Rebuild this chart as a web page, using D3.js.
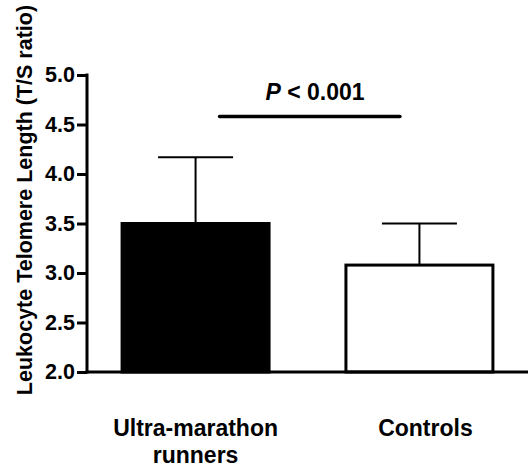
<!DOCTYPE html>
<html>
<head>
<meta charset="utf-8">
<script src="https://cdn.jsdelivr.net/npm/d3@7"></script>
<style>
  body { margin: 0; background: #fff; }
  svg { font-family: "Liberation Sans", Arial, sans-serif; font-weight: bold; }
</style>
</head>
<body>
<svg width="528" height="467"></svg>
<script>
  // telomere length by group (mean and upper error)
  const groups = ['Ultra-marathon runners', 'Controls'];
  const groupLines = [['Ultra-marathon', 'runners'], ['Controls']];
  const means = [3.5, 3.08];
  const errTop = [4.17, 3.5];
  const fills = ['#000000', '#ffffff'];
  const yTicks = [2.0, 2.5, 3.0, 3.5, 4.0, 4.5, 5.0];
  const sigValue = 4.58;
  const sigLabel = '< 0.001';

  const svg = d3.select('svg');

  const xScale = d3.scaleBand()
    .range([87, 528])
    .domain(groups)
    .paddingInner(0.33)
    .paddingOuter(0.15);

  const yScale = d3.scaleLinear()
    .range([372, 75])
    .domain([2, 5]);

  const bw = xScale.bandwidth();

  // bars
  svg.selectAll('.bar')
    .data(groups)
    .enter()
    .append('rect')
    .attr('class', 'bar')
    .attr('x', (g) => xScale(g) + 1.5)
    .attr('y', (g, i) => yScale(means[i]))
    .attr('width', bw - 3)
    .attr('height', (g, i) => yScale(2) - yScale(means[i]))
    .attr('fill', (g, i) => fills[i])
    .attr('stroke', '#000')
    .attr('stroke-width', 3);

  // error bars (upper only)
  const err = svg.selectAll('.err')
    .data(groups)
    .enter()
    .append('g')
    .attr('class', 'err')
    .attr('stroke', '#000')
    .attr('stroke-width', 2);

  err.append('line')
    .attr('x1', (g) => xScale(g) + bw / 2)
    .attr('x2', (g) => xScale(g) + bw / 2)
    .attr('y1', (g, i) => yScale(means[i]))
    .attr('y2', (g, i) => yScale(errTop[i]));

  err.append('line')
    .attr('x1', (g) => xScale(g) + bw / 4)
    .attr('x2', (g) => xScale(g) + bw * 3 / 4)
    .attr('y1', (g, i) => yScale(errTop[i]))
    .attr('y2', (g, i) => yScale(errTop[i]));

  // y axis
  const yAxis = svg.append('g')
    .attr('transform', 'translate(87,0)')
    .call(d3.axisLeft(yScale)
      .tickValues(yTicks)
      .tickFormat(d3.format('.1f'))
      .tickSize(10)
      .tickSizeOuter(0)
      .tickPadding(2));

  yAxis.select('.domain').attr('stroke-width', 3).attr('d', 'M0,373.5V73.5');
  yAxis.selectAll('.tick line').attr('stroke-width', 3);
  yAxis.selectAll('.tick text')
    .attr('font-size', 21.5)
    .attr('font-family', '"Liberation Sans", Arial, sans-serif')
    .attr('font-weight', 'bold')
    .attr('fill', '#000');

  // x axis line
  svg.append('line')
    .attr('x1', 85.5)
    .attr('x2', 528)
    .attr('y1', yScale(2))
    .attr('y2', yScale(2))
    .attr('stroke', '#000')
    .attr('stroke-width', 3);

  // category labels
  svg.selectAll('.cat')
    .data(groups)
    .enter()
    .append('text')
    .attr('class', 'cat')
    .attr('text-anchor', 'middle')
    .attr('font-size', 23)
    .each(function (g, i) {
      d3.select(this).selectAll('tspan')
        .data(groupLines[i])
        .enter()
        .append('tspan')
        .attr('x', xScale(g) + bw / 2 + (i === 1 ? 6 : 0))
        .attr('y', (s, j) => 436 + j * 27)
        .text((s) => s);
    });

  // significance bar
  svg.append('line')
    .attr('x1', xScale(groups[0]) + bw * 0.66)
    .attr('x2', xScale(groups[1]) + bw * 0.37)
    .attr('y1', yScale(sigValue))
    .attr('y2', yScale(sigValue))
    .attr('stroke', '#000')
    .attr('stroke-width', 3.5)
    .attr('stroke-linecap', 'round');

  const pText = svg.append('text')
    .attr('x', 315)
    .attr('y', 100)
    .attr('text-anchor', 'middle')
    .attr('font-size', 23);
  pText.append('tspan').attr('font-style', 'italic').text('P');
  pText.append('tspan').text(' ' + sigLabel);

  // y axis title
  svg.append('text')
    .attr('transform', 'translate(32,200) rotate(-90)')
    .attr('text-anchor', 'middle')
    .attr('font-size', 21.5)
    .text('Leukocyte Telomere Length (T/S ratio)');
</script>
</body>
</html>
